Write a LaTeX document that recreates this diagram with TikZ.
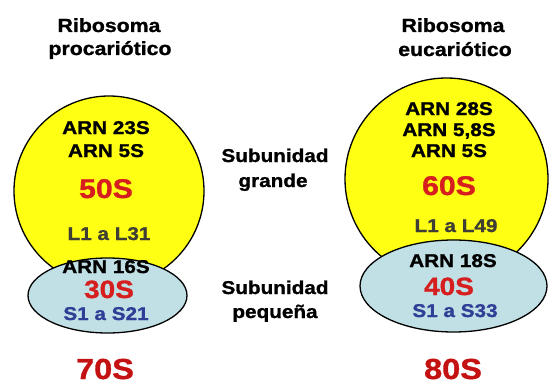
\documentclass[tikz,border=0pt]{standalone}
\usepackage{fontspec}
\setmainfont[FakeStretch=1.12,FakeBold=1.2]{Liberation Sans}
\usepackage{tikz}
\usetikzlibrary{shapes.geometric}

\definecolor{amarillo}{RGB}{255,255,20}
\definecolor{celeste}{RGB}{192,224,230}
\definecolor{rojo}{RGB}{214,30,30}
\definecolor{rojoosc}{RGB}{196,18,18}
\definecolor{azul}{RGB}{48,62,150}
\definecolor{gris}{RGB}{62,62,52}

\begin{document}
\begin{tikzpicture}[x=1pt,y=-1pt]
			\tikzstyle{txt} = [anchor=base, inner sep=0pt, font=\bfseries\fontsize{18.5}{18.5}\selectfont]
			\tikzstyle{tit} = [txt, font=\bfseries\fontsize{19}{19}\selectfont]
			\tikzstyle{big} = [txt, text=rojo, font=\bfseries\fontsize{27}{27}\selectfont]
			\tikzstyle{mid} = [txt, text=rojo, font=\bfseries\fontsize{25}{25}\selectfont]
			\tikzstyle{tot} = [txt, text=rojoosc, font=\bfseries\fontsize{29}{29}\selectfont]
			\tikzstyle{prot} = [txt, text=gris]
			\tikzstyle{protS} = [txt, text=azul]
			\useasboundingbox (0,0) rectangle (553,385);
			% subunidades grandes
			\node[ellipse, draw, line width=1.3pt, fill=amarillo, minimum width=190pt, minimum height=190pt, inner sep=0pt] (grandeP) at (109,191) {};
			\node[ellipse, draw, line width=1.3pt, fill=amarillo, minimum width=203pt, minimum height=202pt, inner sep=0pt] (grandeE) at (446.5,179) {};
			% subunidades pequenas
			\node[ellipse, draw, line width=1.3pt, fill=celeste, minimum width=159pt, minimum height=75pt, inner sep=0pt] (pequeP) at (107.5,295.5) {};
			\node[ellipse, draw, line width=1.3pt, fill=celeste, minimum width=187pt, minimum height=92pt, inner sep=0pt] (pequeE) at (453.5,286) {};
			% titulos
			\node[tit] (ribP) at (109,32) {Ribosoma};
			\node[tit] (procP) at (110,55) {procariótico};
			\node[tit] (ribE) at (453,32) {Ribosoma};
			\node[tit] (eucE) at (455,56) {eucariótico};
			% procariota
			\node[txt] (arn23) at (106,134) {ARN 23S};
			\node[txt] (arn5P) at (106,157) {ARN 5S};
			\node[big] (s50) at (106,198) {50S};
			\node[prot] (l31) at (109,240) {L1 a L31};
			\node[txt] (arn16) at (106,273) {ARN 16S};
			\node[mid] (s30) at (109,298) {30S};
			\node[protS] (s21) at (106,320) {S1 a S21};
			\node[tot] (s70) at (105,379) {70S};
			% eucariota
			\node[txt] (arn28) at (449,115) {ARN 28S};
			\node[txt] (arn58) at (449,136) {ARN 5,8S};
			\node[txt] (arn5E) at (449,157) {ARN 5S};
			\node[big] (s60) at (449,195) {60S};
			\node[prot] (l49) at (456,232) {L1 a L49};
			\node[txt] (arn18) at (453,267) {ARN 18S};
			\node[mid] (s40) at (449,295) {40S};
			\node[protS] (s33) at (455,317) {S1 a S33};
			\node[tot] (s80) at (453,379) {80S};
			% rotulos centrales
			\node[txt] (subG) at (275,162) {Subunidad};
			\node[txt] (gra) at (273,187) {grande};
			\node[txt] (subP) at (275,294) {Subunidad};
			\node[txt] (peq) at (275,318) {pequeña};
		\end{tikzpicture}
\end{document}
